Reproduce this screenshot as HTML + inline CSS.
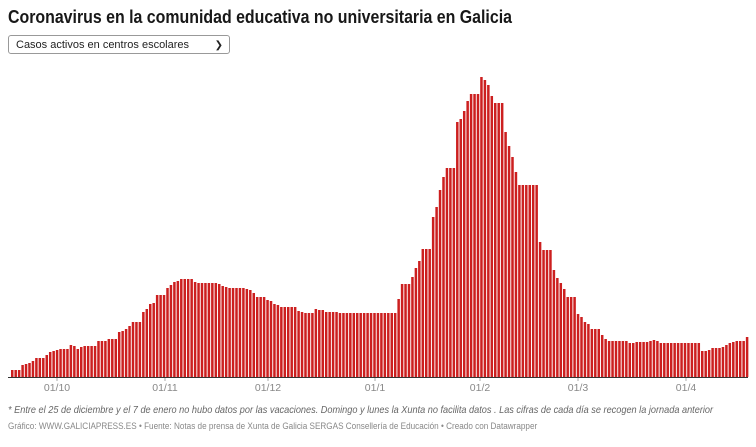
<!DOCTYPE html>
<html><head><meta charset="utf-8"><style>
body{margin:0;width:756px;height:447px;background:#fff;font-family:"Liberation Sans",sans-serif;position:relative;overflow:hidden}
.t{position:absolute;left:8px;top:6px;font-size:18.5px;font-weight:bold;color:#181818;white-space:nowrap;transform:scaleX(0.86);transform-origin:left top}
.sel{position:absolute;left:8px;top:35px;height:19px;border:1px solid #999;border-radius:3px;font-size:11px;line-height:19px;padding-left:7px;box-sizing:border-box;width:222px;color:#222}
.sel span{position:absolute;right:6px;top:0;font-size:10px}
.n{position:absolute;left:8px;top:405px;font-size:10.3px;font-style:italic;color:#666;white-space:nowrap;transform:scaleX(0.89);transform-origin:left top}
.c{position:absolute;left:8px;top:421px;font-size:9.6px;color:#888;white-space:nowrap;transform:scaleX(0.85);transform-origin:left top}
</style></head><body>
<div class="t">Coronavirus en la comunidad educativa no universitaria en Galicia</div>
<div class="sel">Casos activos en centros escolares<span>&#10095;</span></div>
<svg id="s" width="756" height="447" style="position:absolute;left:0;top:0"></svg>
<div class="n">* Entre el 25 de diciembre y el 7 de enero no hubo datos por las vacaciones. Domingo y lunes la Xunta no facilita datos . Las cifras de cada día se recogen la jornada anterior</div>
<div class="c">Gráfico: WWW.GALICIAPRESS.ES • Fuente: Notas de prensa de Xunta de Galicia SERGAS Consellería de Educación • Creado con Datawrapper</div>
<script>
var t=[370,370,370,365,364,363,361,358,358,358,355,352,351,350,349,349,349,345,346,349,347,346,346,346,346,341,341,341,339,339,339,332,331,329,326,322,322,322,312,309,304,303,295,295,295,288,285,282,281,279,279,279,279,282,283,283,283,283,283,283,284,286,287,288,288,288,288,288,289,290,
293,297,297,297,300,301,304,305,307,307,307,307,307,311,312,313,313,313,309,310,310,312,312,312,312,313,313,313,313,313,313,313,313,313,313,313,313,313,313,313,
313,313,299,284,284,284,277,268,261,249,249,249,217,207,190,177,168,168,168,122,119,111,101,94,94,94,77,80,85,96,103,103,103,132,146,157,172,185,185,185,185,185,185,242,250,250,250,270,278,283,289,297,297,297,314,317,322,324,
329,329,329,335,339,341,341,341,341,341,341,343,343,342,342,342,342,341,340,341,343,343,343,343,343,343,343,343,343,343,343,343,351,351,350,348,348,348,347,345,343,342,341,341,341,337];
var h='';
for(var i=0;i<t.length;i++){var x=11+i*3.45;h+='<rect x="'+x.toFixed(2)+'" y="'+t[i]+'" width="2.5" height="'+(377-t[i])+'" fill="#cc1f1f"/>';}
h+='<line x1="8" x2="748" y1="377.5" y2="377.5" stroke="#333" stroke-width="1"/>';
[[57,'01/10'],[165,'01/11'],[268,'01/12'],[375,'01/1'],[480,'01/2'],[578,'01/3'],[686,'01/4']].forEach(function(a){
h+='<line x1="'+a[0]+'" x2="'+a[0]+'" y1="378" y2="381" stroke="#aaa"/><text x="'+a[0]+'" y="391" font-size="10.5" fill="#888" text-anchor="middle" font-family="Liberation Sans">'+a[1]+'</text>';});
document.getElementById('s').innerHTML=h;
</script>
</body></html>
